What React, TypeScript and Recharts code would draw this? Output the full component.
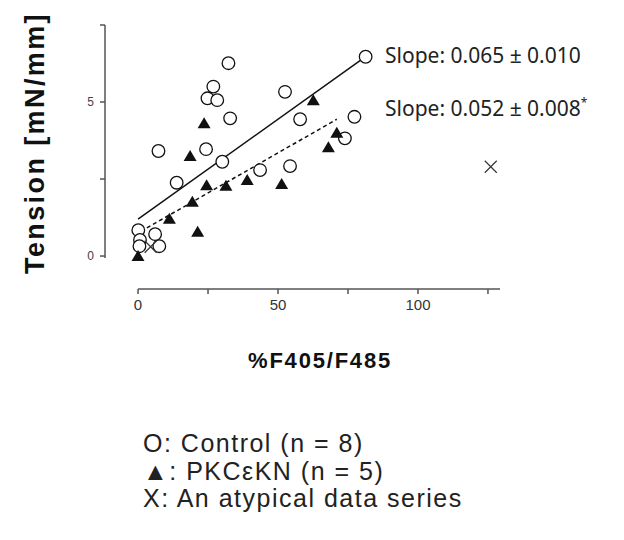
import React from 'react';
import { ScatterChart, Scatter, XAxis, YAxis, ReferenceLine } from 'recharts';

// [x %F405/F485, y tension]
const controlPoints: [number, number][] = [
  [32.3, 6.26], [26.9, 5.5], [24.8, 5.12], [28.3, 5.06], [52.5, 5.33],
  [32.9, 4.47], [57.9, 4.44], [7.3, 3.41], [24.3, 3.47], [30.1, 3.06],
  [13.8, 2.38], [43.6, 2.79], [54.3, 2.92], [81.3, 6.47], [77.3, 4.52],
  [73.9, 3.82], [0.1, 0.84], [6.1, 0.71], [0.7, 0.52], [0.5, 0.32], [7.6, 0.32],
];
const pkcPoints: [number, number][] = [
  [23.6, 4.31], [18.6, 3.25], [24.5, 2.3], [31.4, 2.28], [39, 2.47],
  [51.3, 2.34], [19.4, 1.76], [11.2, 1.21], [21.3, 0.79], [0, 0],
  [62.6, 5.06], [71, 4.0], [68, 3.53],
];
const atypicalPoints: [number, number][] = [[126, 2.9], [4.5, 0.3]];

// regression line end points
const controlFit: [number, number][] = [[0, 1.2], [81.3, 6.47]];
const pkcFit: [number, number][] = [[1, 0.8], [71, 4.44]];

const xTicks = [0, 25, 50, 75, 100, 125];
const xLabels = [0, 50, 100];
const yTicks = [0, 2.5, 5, 7.5];
const yLabels = [0, 5];

const slopeTexts = ['Slope: 0.065 ± 0.010', 'Slope: 0.052 ± 0.008'];
const legendTexts = ['O: Control (n = 8)', '▲: PKCεKN (n = 5)', 'X: An atypical data series'];

const toObj = (pts: [number, number][]) => pts.map(([x, y]) => ({ x, y }));

const AXIS = '#555';

const Circle = (p: any) => (
  <circle cx={p.cx} cy={p.cy} r={6.3} fill="#fff" stroke="#111" strokeWidth={1.3} />
);
const Tri = (p: any) => (
  <path d={`M${p.cx},${p.cy - 6} L${p.cx + 6.5},${p.cy + 5} L${p.cx - 6.5},${p.cy + 5} Z`} fill="#111" />
);
const Cross = (p: any) => (
  <path
    d={`M${p.cx - 6},${p.cy - 6} L${p.cx + 6},${p.cy + 6} M${p.cx + 6},${p.cy - 6} L${p.cx - 6},${p.cy + 6}`}
    stroke="#333"
    strokeWidth={1.2}
  />
);
const Nothing = () => <g />;

export default function App() {
  return (
    <div style={{ position: 'absolute', left: 0, top: 0, width: 624, height: 540, background: '#fff' }}>
      <ScatterChart width={624} height={540} margin={{ top: 25, right: 124, bottom: 221, left: 65 }}>
        <XAxis
          type="number"
          dataKey="x"
          domain={[-11.8, 129.3]}
          allowDataOverflow
          ticks={xTicks}
          tickFormatter={(v: number) => (xLabels.includes(v) ? String(v) : '')}
          axisLine={false}
          tickLine={{ stroke: AXIS, strokeWidth: 1.5 }}
          tickSize={5}
          tickMargin={5}
          height={30}
          tick={{ fill: '#333', fontSize: 15, fontFamily: 'Liberation Sans, Arial' }}
        />
        <YAxis
          type="number"
          dataKey="y"
          domain={[-1.07, 7.5]}
          allowDataOverflow
          ticks={yTicks}
          tickFormatter={(v: number) => (yLabels.includes(v) ? String(v) : '')}
          axisLine={false}
          tickLine={{ stroke: AXIS, strokeWidth: 1.5 }}
          tickSize={5}
          tickMargin={6}
          width={40}
          tick={{ fill: '#444', fontSize: 12, fontFamily: 'Liberation Sans, Arial' }}
        />
        <ReferenceLine
          segment={[{ x: -11.8, y: -0.06 }, { x: -11.8, y: 7.5 }]}
          stroke={AXIS}
          strokeWidth={1.5}
          ifOverflow="visible"
        />
        <ReferenceLine
          segment={[{ x: 0, y: -1.07 }, { x: 129.3, y: -1.07 }]}
          stroke={AXIS}
          strokeWidth={1.5}
          ifOverflow="visible"
        />
        <Scatter data={toObj(controlFit)} line={{ stroke: '#111', strokeWidth: 1.5 }} shape={Nothing} isAnimationActive={false} />
        <Scatter
          data={toObj(pkcFit)}
          line={{ stroke: '#111', strokeWidth: 1.5, strokeDasharray: '4 3' }}
          shape={Nothing}
          isAnimationActive={false}
        />
        <Scatter data={toObj(controlPoints)} shape={Circle} isAnimationActive={false} />
        <Scatter data={toObj(pkcPoints)} shape={Tri} isAnimationActive={false} />
        <Scatter data={toObj(atypicalPoints)} shape={Cross} isAnimationActive={false} />
      </ScatterChart>

      <svg width={624} height={540} style={{ position: 'absolute', left: 0, top: 0, pointerEvents: 'none' }}>
        <text
          x={44}
          y={143}
          transform="rotate(-90 44 143)"
          textAnchor="middle"
          fontFamily="Liberation Sans, Arial"
          fontWeight="bold"
          fontSize={27}
          letterSpacing={2.4}
          fill="#111"
        >
          Tension [mN/mm]
        </text>
        <text
          x={320}
          y={368}
          textAnchor="middle"
          fontFamily="Liberation Sans, Arial"
          fontWeight="bold"
          fontSize={22}
          letterSpacing={1.8}
          fill="#111"
        >
          %F405/F485
        </text>
        <text x={385} y={63} fontFamily="Noto Sans" fontSize={21} fill="#222">
          {slopeTexts[0]}
        </text>
        <text x={385} y={116} fontFamily="Noto Sans" fontSize={21} fill="#222">
          {slopeTexts[1]}
          <tspan dy={-9} fontSize={12}>*</tspan>
        </text>
        {legendTexts.map((t, i) => (
          <text
            key={t}
            x={143}
            y={452 + i * 27.5}
            fontFamily="Liberation Sans, Arial"
            fontSize={25}
            letterSpacing={1.5}
            fill="#222"
          >
            {t}
          </text>
        ))}
      </svg>
    </div>
  );
}
